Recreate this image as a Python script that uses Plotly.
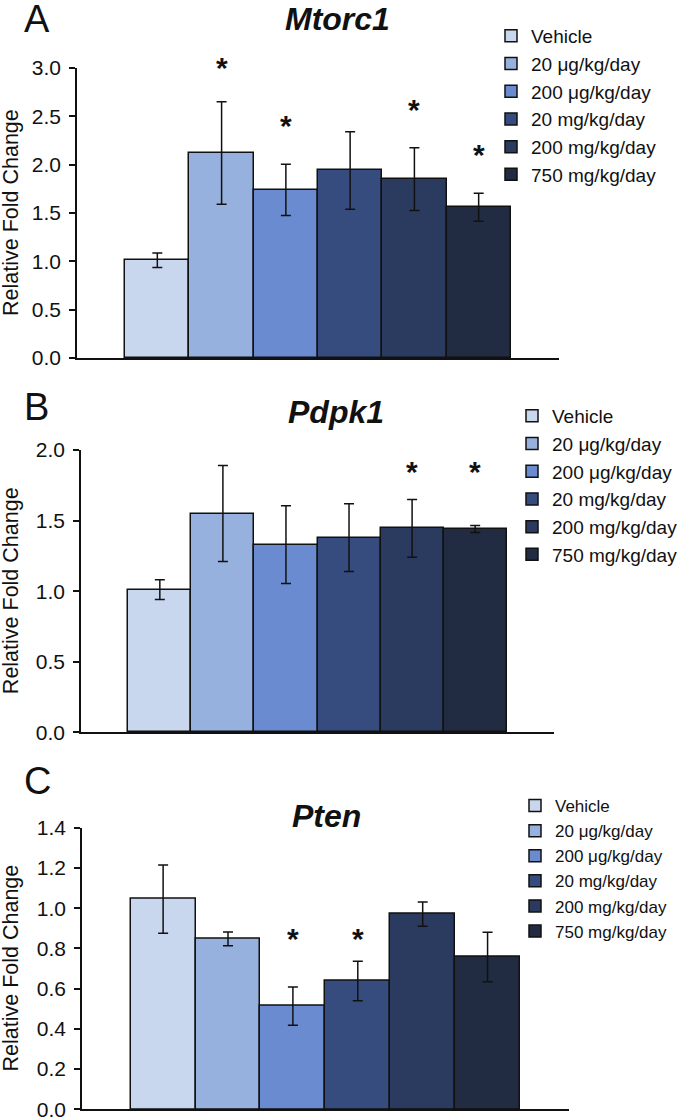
import plotly.graph_objects as go

W, H = 697, 1117

doses = ["Vehicle", "20 μg/kg/day", "200 μg/kg/day", "20 mg/kg/day", "200 mg/kg/day", "750 mg/kg/day"]
colors = ["#C9D7EE", "#97B1DE", "#6A8BCF", "#364C7E", "#2B3A5F", "#212B41"]

genes = ["Mtorc1", "Pdpk1", "Pten"]
panel_letters = ["A", "B", "C"]

mtorc1_mean = [1.01, 2.12, 1.74, 1.94, 1.85, 1.56]
mtorc1_err = [0.075, 0.53, 0.265, 0.40, 0.325, 0.145]
mtorc1_star = [None, 3.03, 2.43, None, 2.59, 2.13]

pdpk1_mean = [1.01, 1.55, 1.33, 1.38, 1.445, 1.44]
pdpk1_err = [0.07, 0.34, 0.275, 0.24, 0.205, 0.025]
pdpk1_star = [None, None, None, None, 1.86, 1.86]

pten_mean = [1.045, 0.847, 0.513, 0.638, 0.97, 0.757]
pten_err = [0.17, 0.034, 0.095, 0.098, 0.06, 0.123]
pten_star = [None, None, 0.86, 0.86, None, None]

y_max = [3.0, 2.0, 1.4]
y_dtick = [0.5, 0.5, 0.2]

FONT = "Liberation Sans, Arial, sans-serif"

# layout geometry in pixels (left, right, top, bottom of plot area)
boxes = [(77, 559, 68, 358), (81, 554, 450, 732.3), (82, 568.7, 827.7, 1109.3)]
legend_pos = [(491, 17), (512, 397), (515, 788)]
legend_font = [19, 19, 17]
title_pos = [(337, 19), (336, 412), (326, 816)]
letter_pos = [(37, 19), (36, 407), (37, 781)]

means = [mtorc1_mean, pdpk1_mean, pten_mean]
errs = [mtorc1_err, pdpk1_err, pten_err]
stars = [mtorc1_star, pdpk1_star, pten_star]

fig = go.Figure()
annotations = []
layout = dict(
    width=W, height=H, margin=dict(l=0, r=0, t=0, b=0, autoexpand=False),
    paper_bgcolor="white", plot_bgcolor="white",
    barmode="overlay", bargap=0,
    font=dict(family=FONT, color="#111111"),
    showlegend=True,
)

for p in range(3):
    sfx = "" if p == 0 else str(p + 1)
    xa, ya = "x" + sfx, "y" + sfx
    lg = "legend" + sfx
    for i, d in enumerate(doses):
        fig.add_trace(go.Bar(
            x=[d], y=[means[p][i]], name=d,
            xaxis=xa, yaxis=ya, legend=lg,
            marker=dict(color=colors[i], line=dict(color="#111111", width=1.5)),
            width=1.0,
            error_y=dict(type="data", array=[errs[p][i]], color="#111111", thickness=1.5, width=5),
        ))
        if stars[p][i] is not None:
            annotations.append(dict(
                x=d, xref=xa, y=stars[p][i] / y_max[p], yref=ya + " domain",
                text="<b>*</b>", showarrow=False, yshift=-2,
                xanchor="center", yanchor="middle",
                font=dict(size=30, family=FONT, color="#111111"),
            ))
    l, r, t, b = boxes[p]
    layout["xaxis" + sfx] = dict(
        domain=[l / W, r / W], anchor=ya, type="category",
        categoryorder="array", categoryarray=doses,
        range=[-1.25, 6.25], showticklabels=False, ticks="",
        showline=True, linecolor="#111111", linewidth=1.5, showgrid=False, zeroline=False,
    )
    layout["yaxis" + sfx] = dict(
        domain=[(H - b) / H, (H - t) / H], anchor=xa,
        range=[0, y_max[p]], dtick=y_dtick[p], tick0=0, tickformat=".1f",
        ticks="outside", ticklen=6, tickwidth=1.5, tickcolor="#111111",
        ticklabelstandoff=4, ticklabeloverflow="allow",
        showline=True, linecolor="#111111", linewidth=1.5, showgrid=False, zeroline=False,
        tickfont=dict(size=21, family=FONT, color="#111111"),
    )
    lx, ly = legend_pos[p]
    layout[lg] = dict(
        x=lx / W, y=(H - ly) / H, xanchor="left", yanchor="top",
        xref="paper", yref="paper",
        font=dict(size=legend_font[p], family=FONT, color="#111111"),
        bgcolor="rgba(0,0,0,0)", borderwidth=0, traceorder="normal",
    )
    tx, ty = title_pos[p]
    annotations.append(dict(
        x=tx / W, y=(H - ty) / H, xref="paper", yref="paper", showarrow=False,
        text="<b><i>" + genes[p] + "</i></b>", xanchor="center", yanchor="middle",
        font=dict(size=32, family=FONT, color="#111111"),
    ))
    px, py = letter_pos[p]
    annotations.append(dict(
        x=px / W, y=(H - py) / H, xref="paper", yref="paper", showarrow=False,
        text=panel_letters[p], xanchor="center", yanchor="middle",
        font=dict(size=38, family=FONT, color="#111111"),
    ))
    annotations.append(dict(
        x=11 / W, y=(H - (t + b) / 2) / H, xref="paper", yref="paper", showarrow=False,
        text="Relative Fold Change", textangle=-90, xanchor="center", yanchor="middle",
        font=dict(size=21.5, family=FONT, color="#111111"),
    ))

layout["annotations"] = annotations
fig.update_layout(**layout)
fig.write_html(
    "out.html",
    config={"displayModeBar": False},
    post_script="document.body.style.margin='0';document.body.style.overflow='hidden';",
)
